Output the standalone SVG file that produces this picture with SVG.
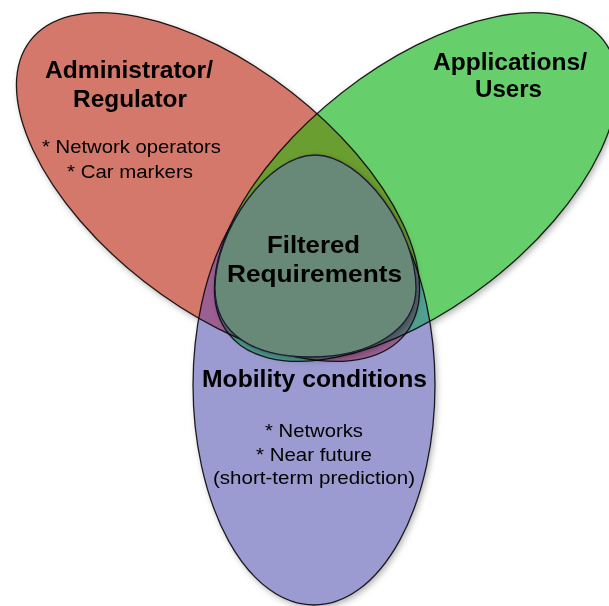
<svg xmlns="http://www.w3.org/2000/svg" xmlns:xlink="http://www.w3.org/1999/xlink" width="609" height="606" viewBox="0 0 609 606">
  <style>
    .title { font-family: "Liberation Sans", Arial, sans-serif; font-weight: bold; font-size: 23px; fill: #000; text-anchor: middle; }
    .title2 { font-family: "Liberation Sans", Arial, sans-serif; font-weight: bold; font-size: 24px; fill: #000; text-anchor: middle; }
    .item { font-family: "Liberation Sans", Arial, sans-serif; font-size: 19px; fill: #000; text-anchor: middle; }
    .edge { fill: none; stroke: #000; stroke-opacity: 0.85; stroke-width: 1.3; }
  </style>
  <defs>
    <ellipse id="eR" cx="218" cy="187" rx="238" ry="120" transform="rotate(38 218 187)"/>
    <ellipse id="eG" cx="416" cy="187" rx="238" ry="120" transform="rotate(-38 416 187)"/>
    <ellipse id="eB" cx="314" cy="385" rx="121" ry="220"/>
    <path id="egg" d="M215,288 C215,230 268,155 315,155 C362,155 416,230 416,288 C416,330 370,357 310,357 C255,357 215,335 215,288 Z"/>
    <clipPath id="clipR"><use xlink:href="#eR"/></clipPath>
    <clipPath id="clipG"><use xlink:href="#eG"/></clipPath>
    <filter id="shadow" x="-10%" y="-10%" width="120%" height="120%">
      <feDropShadow dx="2" dy="3" stdDeviation="3" flood-color="#000" flood-opacity="0.3"/>
    </filter>
  </defs>

  <g id="shadows" filter="url(#shadow)">
    <use xlink:href="#eR" fill="#d3786a"/>
    <use xlink:href="#eG" fill="#66ce6a"/>
    <use xlink:href="#eB" fill="#9b9bd2"/>
  </g>

  <g id="node-administrator">
    <use xlink:href="#eR" fill="#d3786a"/>
    <text class="title" x="129" y="78" textLength="168" lengthAdjust="spacingAndGlyphs">Administrator/</text>
    <text class="title" x="130" y="107" textLength="114" lengthAdjust="spacingAndGlyphs">Regulator</text>
    <text class="item" x="131.5" y="153" textLength="179" lengthAdjust="spacingAndGlyphs">* Network operators</text>
    <text class="item" x="130" y="178" textLength="126" lengthAdjust="spacingAndGlyphs">* Car markers</text>
  </g>

  <g id="node-applications">
    <use xlink:href="#eG" fill="#66ce6a"/>
    <text class="title" x="510" y="70" textLength="154" lengthAdjust="spacingAndGlyphs">Applications/</text>
    <text class="title" x="508.5" y="97" textLength="67" lengthAdjust="spacingAndGlyphs">Users</text>
  </g>

  <g id="node-mobility">
    <use xlink:href="#eB" fill="#9b9bd2"/>
  </g>

  <g id="overlaps">
    <use xlink:href="#eG" fill="#6a9e30" clip-path="url(#clipR)"/>
    <use xlink:href="#eB" fill="#9b5f91" clip-path="url(#clipR)"/>
    <use xlink:href="#eB" fill="#50a091" clip-path="url(#clipG)"/>
    <g clip-path="url(#clipR)">
      <use xlink:href="#eB" fill="#5f6f78" clip-path="url(#clipG)"/>
    </g>
  </g>

  <g id="outlines">
    <use xlink:href="#eR" class="edge"/>
    <use xlink:href="#eG" class="edge"/>
    <use xlink:href="#eB" class="edge"/>
  </g>

  <g id="mobility-labels">
    <text class="title2" x="314.5" y="387" textLength="225" lengthAdjust="spacingAndGlyphs">Mobility conditions</text>
    <text class="item" x="314" y="437" textLength="98" lengthAdjust="spacingAndGlyphs">* Networks</text>
    <text class="item" x="314" y="461" textLength="116" lengthAdjust="spacingAndGlyphs">* Near future</text>
    <text class="item" x="314" y="484" textLength="202" lengthAdjust="spacingAndGlyphs">(short-term prediction)</text>
  </g>

  <g id="node-filtered">
    <use xlink:href="#egg" fill="#678978" stroke="#1c1c30" stroke-width="1.3" filter="url(#shadow)"/>
    <text class="title2" x="313.5" y="253" textLength="93" lengthAdjust="spacingAndGlyphs">Filtered</text>
    <text class="title2" x="314.5" y="282" textLength="175" lengthAdjust="spacingAndGlyphs">Requirements</text>
  </g>
</svg>
